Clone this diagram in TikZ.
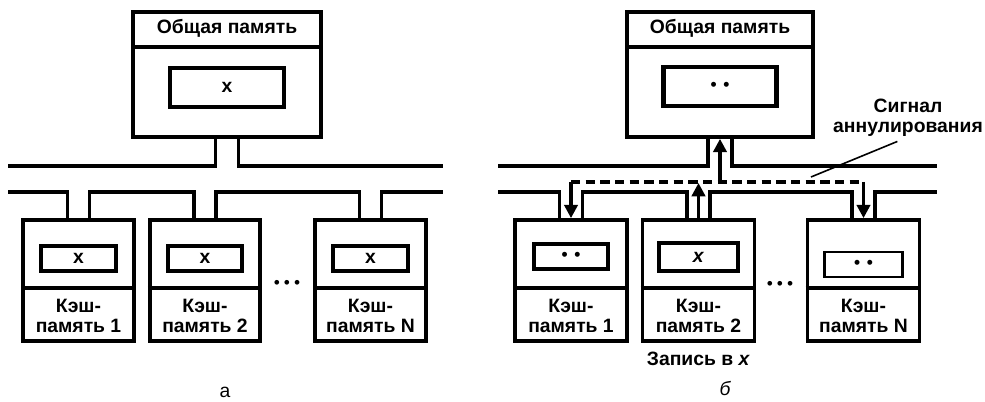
\documentclass[tikz,border=0pt]{standalone}
\usepackage{fontspec}
\setmainfont{Liberation Sans}
\usetikzlibrary{arrows.meta, positioning}
\newcommand{\dotpair}{{\fontsize{13}{14}\selectfont •\hspace{5pt}•}}

\begin{document}
\begin{tikzpicture}[x=0.75pt, y=-0.75pt,
    every node/.style={font=\fontsize{14.5}{15}\selectfont\bfseries},
    frame/.style={line width=2.8pt},
    membox/.style={draw, frame, minimum width=141pt, minimum height=93.75pt, inner sep=0pt},
    cachebox/.style={draw, frame, minimum width=83pt, minimum height=90.75pt, inner sep=0pt},
    cell/.style={draw, line width=3.2pt, minimum width=56pt, minimum height=18.75pt, inner sep=0pt},
    bus/.style={line width=2.8pt},
    sig/.style={line width=2.6pt, dash pattern=on 7pt off 4pt},
    sendarrow/.style={line width=2.4pt, -{Triangle[length=10pt, width=10pt]}}]
\useasboundingbox (0,0) rectangle (985,402);

% a: before the write
\node[membox] (memA) at (227,74.5) {};
\node[anchor=north, minimum height=27pt] (memAt) at (memA.north) {Общая память};
\draw[frame] (memAt.south -| memA.west) -- (memAt.south -| memA.east);
\node[cell, minimum width=85.5pt, minimum height=29.25pt] (memAx) at ([yshift=-10pt]memA.center) {x};
\coordinate (mlA) at ([xshift=-8.6pt]memA.south);
\coordinate (mrA) at ([xshift=8.6pt]memA.south);

\foreach \n/\x in {1/78.5, 2/205, N/370.5} {
  \node[cachebox] (cA\n) at (\x,280.5) {};
  \node[anchor=south, minimum height=40.5pt, align=center] (tA\n) at (cA\n.south) {Кэш-\\память \n};
  \draw[frame] (tA\n.north -| cA\n.west) -- (tA\n.north -| cA\n.east);
  \node[cell] (xA\n) at ([yshift=16.5pt]cA\n.center) {x};
  \coordinate (lA\n) at ([xshift=-8.25pt]cA\n.north);
  \coordinate (rA\n) at ([xshift=8.25pt]cA\n.north);
}

\draw[bus] (8,166) -| (mlA);
\draw[bus] (mrA) |- (443,166);
\draw[bus] (8,192) -| (lA1);
\draw[bus] (rA1) |- (lA2 |- 0,192) -- (lA2);
\draw[bus] (rA2) |- (lAN |- 0,192) -- (lAN);
\draw[bus] (rAN) |- (443,192);

\node[font=\fontsize{13}{14}\selectfont] (ellA) at (287,284) {•\hspace{3pt}•\hspace{3pt}•};
\node[font=\fontsize{14.5}{15}\selectfont] (capA) at (225,392) {а};

% b: write-invalidate
\node[membox, minimum width=139.5pt] (memB) at (720,74.5) {};
\node[anchor=north, minimum height=27pt] (memBt) at (memB.north) {Общая память};
\draw[frame] (memBt.south -| memB.west) -- (memBt.south -| memB.east);
\node[cell, minimum width=84.75pt, minimum height=29.25pt] (memBx) at ([yshift=-9pt]memB.center) {\dotpair};
\coordinate (mlB) at ([xshift=-9pt]memB.south);
\coordinate (mrB) at ([xshift=9pt]memB.south);

\foreach \n/\x in {1/571, 2/698.5, N/863.5} {
  \node[cachebox, minimum width=84pt] (cB\n) at (\x,280.5) {};
  \node[anchor=south, minimum height=40.5pt, align=center] (tB\n) at (cB\n.south) {Кэш-\\память \n};
  \draw[frame] (tB\n.north -| cB\n.west) -- (tB\n.north -| cB\n.east);
  \coordinate (lB\n) at ([xshift=-8.6pt]cB\n.north);
  \coordinate (rB\n) at ([xshift=8.6pt]cB\n.north);
}
\node[cell] (xB1) at ([yshift=18pt]cB1.center) {\dotpair};
\node[cell, minimum width=59pt, minimum height=21pt] (xB2) at ([yshift=17.5pt]cB2.center) {\textit{x}};
\node[cell, line width=2.2pt, minimum width=58.5pt] (xBN) at ([yshift=12pt]cBN.center) {\dotpair};

\draw[bus] (498,166) -| (mlB);
\draw[bus] (mrB) |- (937,166);
\draw[bus] (498,192) -| (lB1);
\draw[bus] (rB1) |- (lB2 |- 0,192) -- (lB2);
\draw[bus] (rB2) |- (lBN |- 0,192) -- (lBN);
\draw[bus] (rBN) |- (937,192);

\coordinate (sL) at (cB1.north |- 0,182);
\coordinate (sR) at (cBN.north |- 0,182);
\draw[sig] (sL) -- (sR);
\draw[sendarrow] (sL) -- (cB1.north);
\draw[sendarrow] (sR) -- (cBN.north);
\draw[sendarrow] (cB2.north) -- (cB2.north |- 0,183);
\draw[sendarrow] (memB.south |- 0,182) -- (memB.south);

\node[align=center] (sigT) at (908,118) {Сигнал\\аннулирования};
\coordinate (sigEnd) at (811,177);
\draw[line width=1.2pt] ([xshift=-8pt]sigT.south) -- (sigEnd);

\node[below=3pt of cB2] (wrB) {Запись в \textit{x}};
\node[font=\fontsize{13}{14}\selectfont] (ellB) at (780,285) {•\hspace{3pt}•\hspace{3pt}•};
\node[font=\fontsize{14.5}{15}\selectfont\itshape] (capB) at (725,389) {б};
\end{tikzpicture}
\end{document}
